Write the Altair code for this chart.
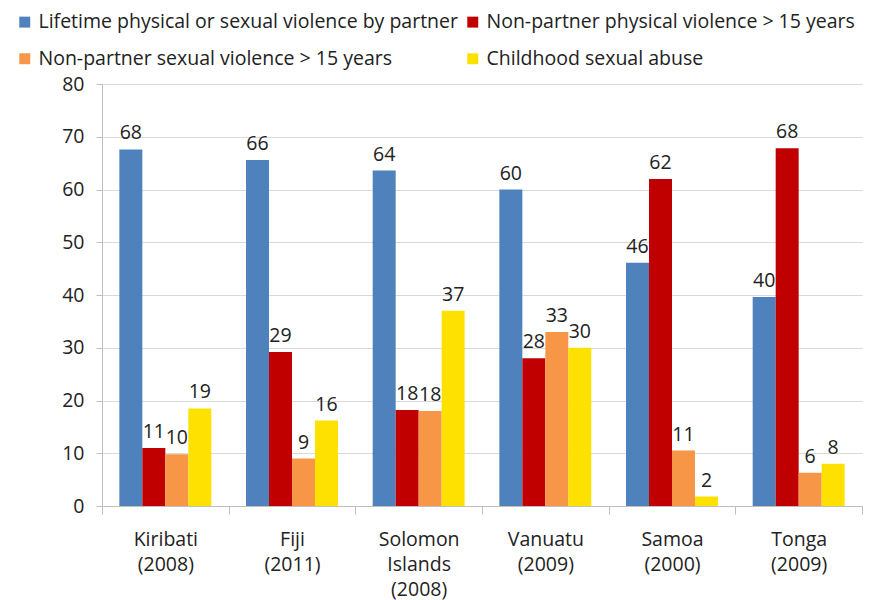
import altair as alt
import pandas as pd

countries = ["Kiribati|(2008)", "Fiji|(2011)", "Solomon|Islands|(2008)",
             "Vanuatu|(2009)", "Samoa|(2000)", "Tonga|(2009)"]
series = ["Lifetime physical or sexual violence by partner",
          "Non-partner physical violence > 15 years",
          "Non-partner sexual violence > 15 years",
          "Childhood sexual abuse"]
colors = ["#4F81BD", "#C00000", "#F79646", "#FFE100"]

partner = [67.6, 65.6, 63.6, 60.0, 46.1, 39.6]
np_physical = [11.0, 29.2, 18.2, 28.0, 62.0, 67.8]
np_sexual = [9.8, 9.0, 18.0, 33.0, 10.5, 6.3]
child = [18.5, 16.2, 37.0, 30.0, 1.8, 8.0]

partner_lbl = [68, 66, 64, 60, 46, 40]
np_physical_lbl = [11, 29, 18, 28, 62, 68]
np_sexual_lbl = [10, 9, 18, 33, 11, 6]
child_lbl = [19, 16, 37, 30, 2, 8]

rows = []
for vals, lbls, s in zip([partner, np_physical, np_sexual, child],
                         [partner_lbl, np_physical_lbl, np_sexual_lbl, child_lbl],
                         series):
    for c, v, l in zip(countries, vals, lbls):
        rows.append({"country": c, "series": s, "value": v, "label": str(l)})
df = pd.DataFrame(rows)

FONT = "Open Sans"
FS = 19.5

x = alt.X("country:N", sort=countries,
          scale=alt.Scale(paddingInner=0, paddingOuter=0),
          axis=alt.Axis(title=None, labelAngle=0, tickBand="extent",
                        labelExpr="split(datum.label, '|')",
                        labelFontSize=FS, labelColor="#222222", labelFont=FONT,
                        labelPadding=16, labelLineHeight=25,
                        tickSize=8, tickColor="#BFBFBF", domainColor="#BFBFBF",
                        labelBaseline="top"))
xo = alt.XOffset("series:N", sort=series,
                 scale=alt.Scale(paddingInner=0, paddingOuter=0.755))
y = alt.Y("value:Q", scale=alt.Scale(domain=[0, 80], nice=False),
          axis=alt.Axis(title=None, values=list(range(0, 81, 10)),
                        labelFontSize=FS, labelColor="#222222", labelFont=FONT,
                        labelPadding=12, tickSize=6, tickColor="#BFBFBF",
                        domainColor="#BFBFBF", gridColor="#D9D9D9"))

bars = alt.Chart(df).mark_bar().encode(
    x=x, xOffset=xo, y=y,
    color=alt.Color("series:N", sort=series,
                    scale=alt.Scale(domain=series, range=colors),
                    legend=alt.Legend(title=None, orient="none", legendX=-87,
                                      legendY=-72, columns=2, direction="horizontal",
                                      symbolType="square", symbolSize=120,
                                      symbolStrokeWidth=0, labelFontSize=FS,
                                      labelFont=FONT, labelColor="#222222",
                                      labelLimit=700, columnPadding=5,
                                      rowPadding=16, labelOffset=4)),
)

text = alt.Chart(df).mark_text(baseline="alphabetic", dy=-10, fontSize=FS,
                               font=FONT, color="#222222").encode(
    x=x, xOffset=xo, y=y, text="label:N"
)

chart = alt.layer(bars, text).properties(
    width=760, height=422,
    autosize=alt.AutoSizeParams(type="none"),
    padding={"left": 94, "top": 76, "right": 11, "bottom": 94},
).configure_view(stroke=None).configure_axisX(grid=False)

chart.save("out.html", embed_options={"renderer": "svg", "actions": False})
